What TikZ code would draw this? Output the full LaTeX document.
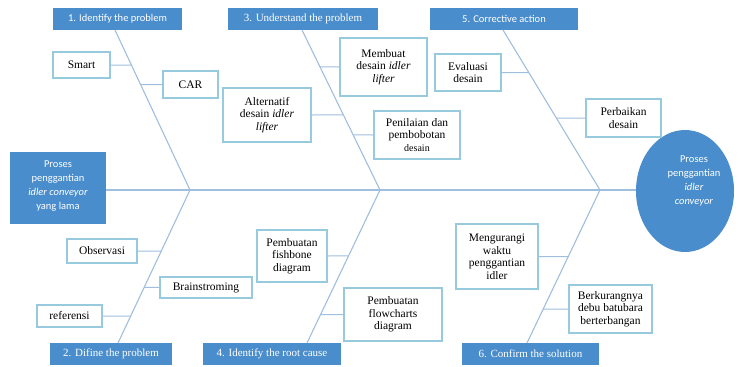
\documentclass[tikz,border=0pt]{standalone}
\usepackage{fontspec}
\setmainfont{Liberation Serif}
\newfontfamily\calfont{Carlito}
\usetikzlibrary{calc,shapes.geometric}
\definecolor{fbBlue}{RGB}{74,141,204}
\definecolor{fbEdge}{RGB}{150,202,220}
\definecolor{fbLine}{RGB}{160,190,222}

\begin{document}
\begin{tikzpicture}[x=1pt,y=-1pt,
  head/.style={fill=fbBlue,text=white,inner sep=0pt,minimum height=22pt,font=\fontsize{11}{12}\selectfont},
  headsans/.style={head,font=\calfont\fontsize{10.5}{12}\selectfont},
  cause/.style={draw=fbEdge,line width=1.2pt,fill=white,align=center,inner sep=1pt,font=\fontsize{11.5}{12.5}\selectfont},
  whitetxt/.style={text=white,align=center,inner sep=0pt,font=\calfont\fontsize{10.5}{14}\selectfont},
  bone/.style={fbLine,line width=1.1pt},
  twig/.style={fbLine,line width=1pt}]
\useasboundingbox (0,0) rectangle (740,367);
% effect and head box
\node[fill=fbBlue,minimum width=96pt,minimum height=72pt,inner sep=0pt] (old) at (58,188) {};
\node[whitetxt] (oldtxt) at (58,186) {Proses\\penggantian\\\textit{idler conveyor}\\yang lama};
\node[ellipse,fill=fbBlue,minimum width=98pt,minimum height=122pt,inner sep=0pt] (goal) at (685,191) {};
\node[whitetxt] (goaltxt) at (694,181) {Proses\\penggantian\\\textit{idler}\\\textit{conveyor}};
% category headers
\node[headsans,minimum width=129pt] (h1) at (117.5,19) {1. Identify the problem};
\node[head,minimum width=150pt] (h3) at (303,19) {3. Understand the problem};
\node[headsans,minimum width=148pt] (h5) at (504,19) {5. Corrective action};
\node[head,minimum width=122pt] (h2) at (111,354) {2. Difine the problem};
\node[head,minimum width=138pt] (h4) at (272,354) {4. Identify the root cause};
\node[head,minimum width=137pt] (h6) at (530.5,354) {6. Confirm the solution};
% bones
\coordinate (b1) at (115,30); \coordinate (j1) at (190,190); \coordinate (b2) at (118,343);
\coordinate (b3) at (302,30); \coordinate (j3) at (380,190); \coordinate (b4) at (307,343);
\coordinate (b5) at (503,30); \coordinate (j5) at (600,190); \coordinate (b6) at (527,343);
\draw[fbLine,line width=1.8pt] (old.east|-j1) -- (j1) -- (j3) -- (j5) -- (goal.west|-j5);
\draw[bone] (b1) -- (j1) -- (b2);
\draw[bone] (b3) -- (j3) -- (b4);
\draw[bone] (b5) -- (j5) -- (b6);
% causes
\node[cause,minimum width=57pt,minimum height=26pt] (smart) at (81.5,65) {Smart};
\node[cause,minimum width=55pt,minimum height=27pt] (car) at (190.5,84.5) {CAR};
\node[cause,minimum width=88pt,minimum height=54pt] (alt) at (267,115) {Alternatif\\desain \textit{idler}\\\textit{lifter}};
\node[cause,minimum width=87pt,minimum height=58pt] (memb) at (383.5,67) {Membuat\\desain \textit{idler}\\\textit{lifter}};
\node[cause,minimum width=86pt,minimum height=48pt] (pen) at (417,135) {Penilaian dan\\pembobotan\\{\fontsize{10}{11}\selectfont desain}};
\node[cause,minimum width=66pt,minimum height=37pt] (eval) at (468,72.5) {Evaluasi\\desain};
\node[cause,minimum width=75pt,minimum height=38pt] (perb) at (623.5,118) {Perbaikan\\desain};
\node[cause,minimum width=70pt,minimum height=24pt] (obs) at (102,251) {Observasi};
\node[cause,minimum width=92pt,minimum height=21pt] (brain) at (206,287.5) {Brainstroming};
\node[cause,minimum width=65pt,minimum height=22pt] (ref) at (69.5,316) {referensi};
\node[cause,minimum width=70pt,minimum height=52pt] (fish) at (292,256) {Pembuatan\\fishbone\\diagram};
\node[cause,minimum width=98pt,minimum height=53pt] (flow) at (393,314.5) {Pembuatan\\flowcharts\\diagram};
\node[cause,minimum width=82pt,minimum height=65pt] (meng) at (497,256.5) {Mengurangi\\waktu\\penggantian\\idler};
\node[cause,minimum width=83pt,minimum height=48pt] (berk) at (610.5,309) {Berkurangnya\\debu batubara\\berterbangan};
% points on the bones
\coordinate (k1) at ($(b1)!0.219!(j1)$); \coordinate (k2) at ($(b1)!0.341!(j1)$);
\coordinate (k3) at ($(b3)!0.531!(j3)$); \coordinate (k4) at ($(b3)!0.231!(j3)$);
\coordinate (k5) at ($(b3)!0.656!(j3)$); \coordinate (k6) at ($(b5)!0.266!(j5)$);
\coordinate (k7) at ($(b5)!0.55!(j5)$);
\coordinate (m1) at ($(j1)!0.399!(b2)$); \coordinate (m2) at ($(j1)!0.637!(b2)$);
\coordinate (m3) at ($(j1)!0.824!(b2)$); \coordinate (m4) at ($(j3)!0.431!(b4)$);
\coordinate (m5) at ($(j3)!0.814!(b4)$); \coordinate (m6) at ($(j5)!0.435!(b6)$);
\coordinate (m7) at ($(j5)!0.778!(b6)$);
\draw[twig] (smart.east) -- (k1); \draw[twig] (car.west) -- (k2);
\draw[twig] (alt.east) -- (k3); \draw[twig] (memb.west) -- (k4);
\draw[twig] (pen.west) -- (k5); \draw[twig] (eval.east) -- (k6);
\draw[twig] (perb.west) -- (k7);
\draw[twig] (obs.east) -- (m1); \draw[twig] (brain.west) -- (m2);
\draw[twig] (ref.east) -- (m3); \draw[twig] (fish.east) -- (m4);
\draw[twig] (flow.west) -- (m5); \draw[twig] (meng.east) -- (m6);
\draw[twig] (berk.west) -- (m7);
\end{tikzpicture}
\end{document}
